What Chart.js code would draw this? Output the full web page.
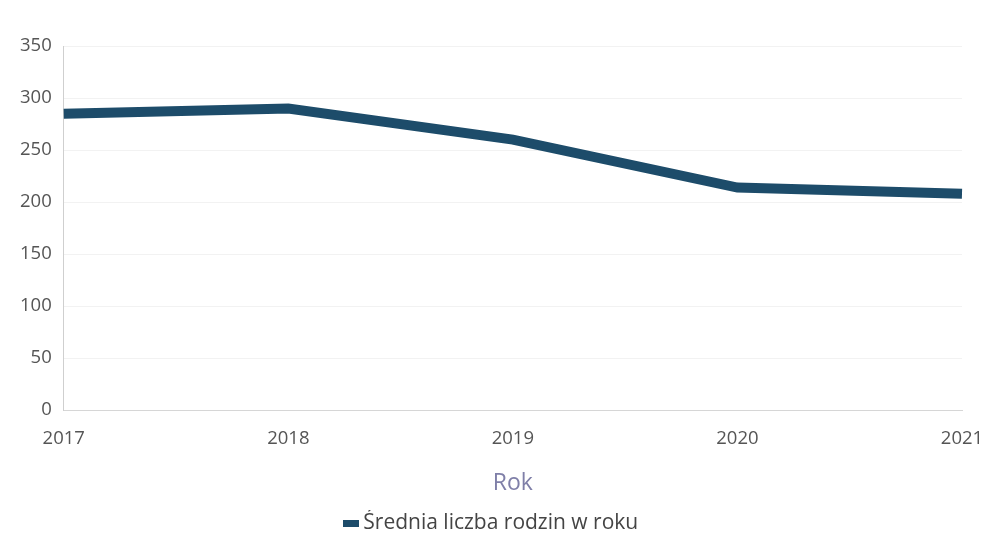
<!DOCTYPE html>
<html>
<head>
<meta charset="utf-8">
<script src="https://cdn.jsdelivr.net/npm/chart.js@4.4.1/dist/chart.umd.min.js"></script>
<style>
  html, body { margin: 0; padding: 0; background: #ffffff; overflow: hidden; }
  #wrap { width: 984px; height: 537px; position: relative; }
  canvas { display: block; }
</style>
</head>
<body>
<div id="wrap"><canvas id="chart"></canvas></div>
<script>
// Years on the horizontal axis
const years = ['2017', '2018', '2019', '2020', '2021'];
// Average number of families per year
const avgFamilies = [285, 290, 260, 214, 208];
const seriesLabel = 'Średnia liczba rodzin w roku';
const xAxisTitle = 'Rok';

const lineColor = '#1d4c6a';
const fontFamily = '"Open Sans", "Noto Sans", sans-serif';

// Small flat swatch used as the legend marker
const swatch = document.createElement('canvas');
swatch.width = 16;
swatch.height = 7;
(function () {
  const c = swatch.getContext('2d');
  c.fillStyle = lineColor;
  c.fillRect(0, 0, 16, 7);
})();

new Chart(document.getElementById('chart'), {
  type: 'line',
  data: {
    labels: years,
    datasets: [{
      label: seriesLabel,
      data: avgFamilies,
      borderColor: lineColor,
      backgroundColor: lineColor,
      borderWidth: 10,
      pointRadius: 0,
      pointHoverRadius: 0,
      pointStyle: swatch,
      tension: 0,
      fill: false
    }]
  },
  options: {
    responsive: true,
    maintainAspectRatio: false,
    animation: false,
    layout: { padding: { left: 8, right: 5, top: 46, bottom: -7 } },
    plugins: {
      legend: {
        position: 'bottom',
        labels: {
          usePointStyle: true,
          pointStyleWidth: 4,
          color: '#444',
          font: { family: fontFamily, size: 21 },
          padding: 3
        }
      },
      tooltip: { enabled: false }
    },
    scales: {
      x: {
        offset: false,
        grid: { display: false, drawTicks: false },
        border: { color: '#d6d6d6', width: 1 },
        ticks: {
          color: '#555',
          font: { family: fontFamily, size: 18.5 },
          padding: 17,
          maxRotation: 0
        },
        title: {
          display: true,
          text: xAxisTitle,
          color: '#7f7fa8',
          font: { family: fontFamily, size: 23 },
          padding: { top: 3, bottom: 13 }
        },
        afterFit: (scale) => {
          // keep the plot reaching close to the right edge
          scale.paddingRight = 22;
        }
      },
      y: {
        min: 0,
        max: 350,
        grid: { color: '#f2f2f2', drawTicks: false },
        border: { color: '#cfcfcf', width: 1 },
        ticks: {
          stepSize: 50,
          color: '#555',
          font: { family: fontFamily, size: 18.5 },
          padding: 12
        }
      }
    }
  }
});
</script>
</body>
</html>
